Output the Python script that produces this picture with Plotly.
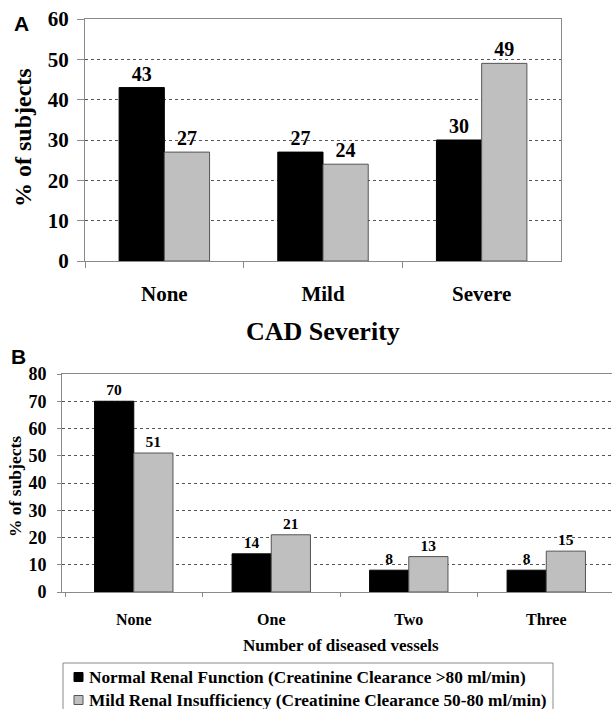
import plotly.graph_objects as go

# Panel A data
cad_categories = ["None", "Mild", "Severe"]
cad_normal = [43, 27, 30]
cad_mild_ri = [27, 24, 49]

# Panel B data
vessel_categories = ["None", "One", "Two", "Three"]
vessel_normal = [70, 14, 8, 8]
vessel_mild_ri = [51, 21, 13, 15]

series_names = [
    "Normal Renal Function (Creatinine Clearance >80 ml/min)",
    "Mild Renal Insufficiency (Creatinine Clearance 50-80 ml/min)",
]

W, H = 612, 709
SERIF = "Liberation Serif, DejaVu Serif, serif"
SANS = "Liberation Sans, Arial, sans-serif"
BLACK = "#000000"
GRAY = "#bfbfbf"
LINE = "#8a8a8a"
series_colors = [BLACK, GRAY]
series_edges = [BLACK, "#555555"]


def px(x):
    return x / W


def py(y):
    return 1 - y / H


fig = go.Figure()

# Panel A
for vals, name, c, e in zip([cad_normal, cad_mild_ri], series_names, series_colors, series_edges):
    fig.add_trace(go.Bar(
        x=cad_categories, y=vals, name=name,
        marker=dict(color=c, line=dict(color=e, width=1)),
        text=vals, textposition="outside", constraintext="none",
        textfont=dict(family=SERIF, size=20, color="black", weight="bold"),
        xaxis="x", yaxis="y", showlegend=False, cliponaxis=False,
    ))

# Panel B
for vals, name, c, e in zip([vessel_normal, vessel_mild_ri], series_names, series_colors, series_edges):
    fig.add_trace(go.Bar(
        x=vessel_categories, y=vals, name=name,
        marker=dict(color=c, line=dict(color=e, width=1)),
        text=vals, textposition="outside", constraintext="none",
        textfont=dict(family=SERIF, size=15.5, color="black", weight="bold"),
        xaxis="x2", yaxis="y2", showlegend=False, cliponaxis=False,
    ))

axis_common = dict(showline=True, linecolor=LINE, linewidth=1, mirror=True,
                   ticks="outside", tickcolor=LINE, automargin=False,
                   zeroline=False)

# Manual legend (box extends below the page edge as in the reference)
legend_shapes = [
    dict(type="rect", xref="paper", yref="paper",
         x0=px(63), x1=px(553), y0=py(725), y1=py(663),
         line=dict(color=LINE, width=1), fillcolor="white", layer="above"),
]
legend_annots = []
for i, (name, c, e) in enumerate(zip(series_names, series_colors, series_edges)):
    cy = 677 + 23 * i
    legend_shapes.append(dict(type="rect", xref="paper", yref="paper",
                              x0=px(74), x1=px(83), y0=py(cy + 4.5), y1=py(cy - 4.5),
                              line=dict(color=e if i else BLACK, width=1),
                              fillcolor=c, layer="above"))
    legend_annots.append(dict(text=name, x=px(87), y=py(cy), xref="paper", yref="paper",
                              xanchor="left", yanchor="middle", showarrow=False,
                              font=dict(family=SERIF, size=17.3, weight="bold")))

fig.update_layout(
    width=W, height=H,
    margin=dict(l=0, r=0, t=0, b=0, autoexpand=False),
    paper_bgcolor="white", plot_bgcolor="white",
    barmode="group", bargap=0.43, bargroupgap=0,
    font=dict(family=SERIF, color="black"),
    showlegend=False,
    xaxis=dict(domain=[px(85), px(561)], anchor="y", range=[-0.5, 2.5],
               tickson="boundaries", ticklen=6, showgrid=False,
               tickfont=dict(family=SERIF, size=21, weight="bold"),
               ticklabelstandoff=14, **axis_common),
    yaxis=dict(domain=[py(261), py(19)], anchor="x", range=[0, 60],
               tickvals=[0, 10, 20, 30, 40, 50, 60], ticklen=7,
               showgrid=True, gridcolor="#555555", griddash="dot", gridwidth=1,
               tickfont=dict(family=SERIF, size=21, weight="bold"),
               ticklabelstandoff=4, **axis_common),
    xaxis2=dict(domain=[px(62), 1.0], anchor="y2", range=[-0.522, 3.478],
                tickson="boundaries", ticklen=4, showgrid=False,
                tickfont=dict(family=SERIF, size=16, weight="bold"),
                ticklabelstandoff=13, **axis_common),
    yaxis2=dict(domain=[py(592), py(374)], anchor="x2", range=[0, 80],
                tickvals=[0, 10, 20, 30, 40, 50, 60, 70, 80], ticklen=4,
                showgrid=True, gridcolor="#555555", griddash="dot", gridwidth=1,
                tickfont=dict(family=SERIF, size=18, weight="bold"),
                ticklabelstandoff=7, **axis_common),
    shapes=legend_shapes,
    annotations=[
        dict(text="A", x=px(21), y=py(24), xref="paper", yref="paper",
             xanchor="center", yanchor="middle", showarrow=False,
             font=dict(family=SANS, size=21, weight="bold")),
        dict(text="B", x=px(18), y=py(356), xref="paper", yref="paper",
             xanchor="center", yanchor="middle", showarrow=False,
             font=dict(family=SANS, size=21, weight="bold")),
        dict(text="% of subjects", x=px(23), y=py(138), xref="paper", yref="paper",
             xanchor="center", yanchor="middle", showarrow=False, textangle=-90,
             font=dict(family=SERIF, size=24, weight="bold")),
        dict(text="CAD Severity", x=px(323), y=py(332), xref="paper", yref="paper",
             xanchor="center", yanchor="middle", showarrow=False,
             font=dict(family=SERIF, size=26, weight="bold")),
        dict(text="% of subjects", x=px(15), y=py(487), xref="paper", yref="paper",
             xanchor="center", yanchor="middle", showarrow=False, textangle=-90,
             font=dict(family=SERIF, size=17.5, weight="bold")),
        dict(text="Number of diseased vessels", x=px(341), y=py(645),
             xref="paper", yref="paper", xanchor="center", yanchor="middle",
             showarrow=False, font=dict(family=SERIF, size=17, weight="bold")),
    ] + legend_annots,
)

fig.write_html("out.html", config={"displayModeBar": False},
               post_script="document.body.style.margin='0';document.body.style.overflow='hidden';")
